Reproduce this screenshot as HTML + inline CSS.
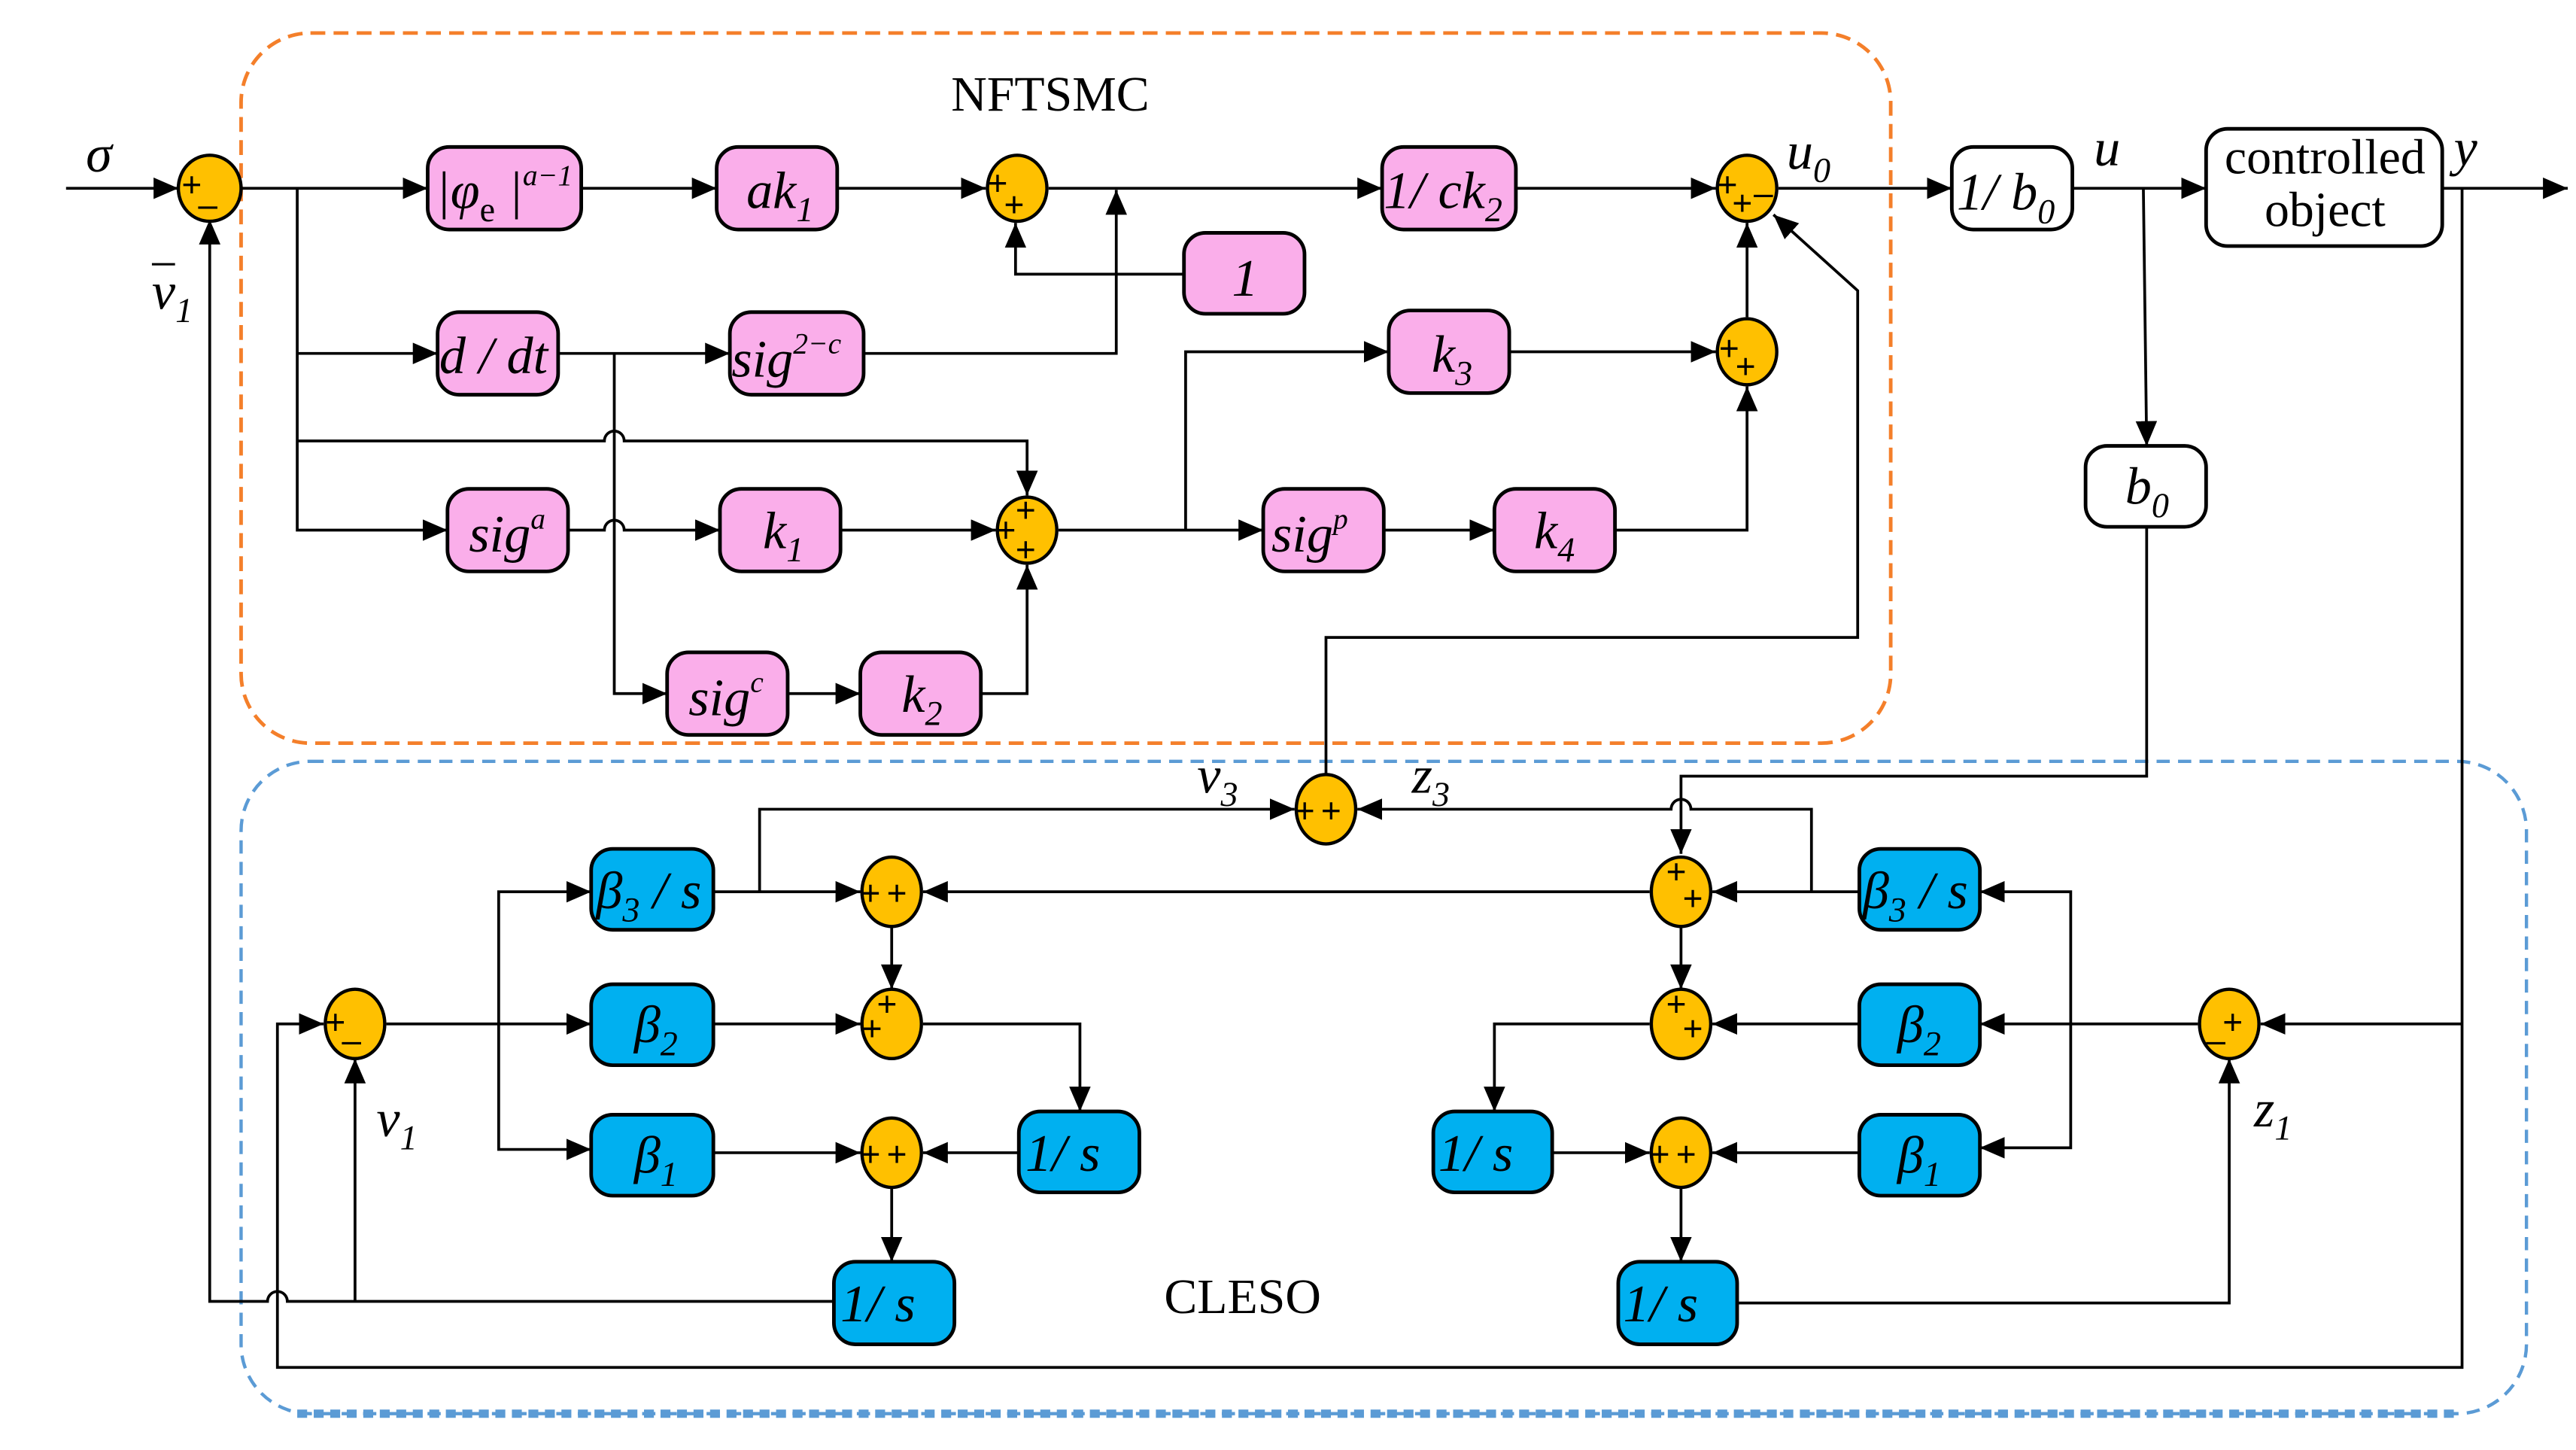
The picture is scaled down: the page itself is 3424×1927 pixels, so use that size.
<!DOCTYPE html>
<html><head><meta charset="utf-8"><style>
html,body{margin:0;padding:0;background:#fff;width:3424px;height:1927px;overflow:hidden}
svg{display:block}
.b{stroke:#000;stroke-width:2.2}
.pk{fill:#FAAEEA}
.bl{fill:#00B0F0}
.wh{fill:#fff}
.s{fill:#FFC000;stroke:#000;stroke-width:2}
.l{fill:none;stroke:#000;stroke-width:1.7}
.t{font-family:"Liberation Serif",serif;font-style:italic;font-size:32px;fill:#000}
.sg{font-family:"Liberation Sans",sans-serif;font-size:21px;fill:#000}
.up{font-family:"Liberation Serif",serif;font-size:30px;fill:#000}
</style></head><body>
<svg width="3424" height="1927" viewBox="0 0 1560 878" preserveAspectRatio="none" xmlns="http://www.w3.org/2000/svg">
<defs><marker id="a" markerUnits="userSpaceOnUse" markerWidth="16" markerHeight="14" refX="15" refY="6.5" orient="auto"><path d="M0,0 L15,6.5 L0,13 z" fill="#000"/></marker></defs>

<rect x="146" y="20" width="999" height="430" rx="42" fill="none" stroke="#F47F2A" stroke-width="2.2" stroke-dasharray="9,5"/>
<rect x="146" y="461" width="1384" height="395" rx="42" fill="none" stroke="#5B9BD5" stroke-width="2" stroke-dasharray="8,5"/>
<path d="M180,856 H1490" stroke="#5B9BD5" stroke-width="5" stroke-dasharray="6,4"/>

<text x="576" y="67" class="up">NFTSMC</text>
<text x="705" y="795" class="up">CLESO</text>

<g class="l">
<path d="M40,114 H108" marker-end="url(#a)"/>
<path d="M146,114 H259" marker-end="url(#a)"/>
<path d="M352,114 H434" marker-end="url(#a)"/>
<path d="M507,114 H597" marker-end="url(#a)"/>
<path d="M635,114 H837" marker-end="url(#a)"/>
<path d="M918,114 H1039" marker-end="url(#a)"/>
<path d="M1077,114 H1182" marker-end="url(#a)"/>
<path d="M1255,114 H1336" marker-end="url(#a)"/>
<path d="M1479,114 H1555" marker-end="url(#a)"/>
<path d="M180,114 V321 H271" marker-end="url(#a)"/>
<path d="M180,214 H265" marker-end="url(#a)"/>
<path d="M180,267 H366 a6,6 0 0 1 12,0 H622 V300" marker-end="url(#a)"/>
<path d="M338,214 H442" marker-end="url(#a)"/>
<path d="M372,214 V420 H404" marker-end="url(#a)"/>
<path d="M477,420 H521" marker-end="url(#a)"/>
<path d="M344,321 H366 a6,6 0 0 1 12,0 H436" marker-end="url(#a)"/>
<path d="M509,321 H603" marker-end="url(#a)"/>
<path d="M594,420 H622 V342" marker-end="url(#a)"/>
<path d="M523,214 H676 V115" marker-end="url(#a)"/>
<path d="M717,166 H615 V135" marker-end="url(#a)"/>
<path d="M641,321 H765" marker-end="url(#a)"/>
<path d="M718,321 V213 H841" marker-end="url(#a)"/>
<path d="M838,321 H905" marker-end="url(#a)"/>
<path d="M914,213 H1039" marker-end="url(#a)"/>
<path d="M978,321 H1058 V234" marker-end="url(#a)"/>
<path d="M1058,192 V135" marker-end="url(#a)"/>
<path d="M803,469 V386 H1125 V176 L1074,130" marker-end="url(#a)"/>
<path d="M1298,114 L1300,270" marker-end="url(#a)"/>
<path d="M1300,319 V470 H1018 V517" marker-end="url(#a)"/>
<path d="M1097,540 V490 H1024 a6,6 0 0 0 -12,0 H822" marker-end="url(#a)"/>
<path d="M1491,114 V828 H168 V620 H196" marker-end="url(#a)"/>
<path d="M1491,620 H1369" marker-end="url(#a)"/>
<path d="M505,788 H174 a6,6 0 0 0 -12,0 H127 V133" marker-end="url(#a)"/>
<path d="M215,788 V641" marker-end="url(#a)"/>
<path d="M234,620 H358" marker-end="url(#a)"/>
<path d="M302,620 V540 H358" marker-end="url(#a)"/>
<path d="M302,620 V696 H358" marker-end="url(#a)"/>
<path d="M432,540 H521" marker-end="url(#a)"/>
<path d="M460,540 V490 H784" marker-end="url(#a)"/>
<path d="M432,620 H521" marker-end="url(#a)"/>
<path d="M432,698 H521" marker-end="url(#a)"/>
<path d="M540,561 V599" marker-end="url(#a)"/>
<path d="M559,620 H654 V673" marker-end="url(#a)"/>
<path d="M617,698 H559" marker-end="url(#a)"/>
<path d="M540,719 V764" marker-end="url(#a)"/>
<path d="M1126,540 H1037" marker-end="url(#a)"/>
<path d="M999,540 H559" marker-end="url(#a)"/>
<path d="M1018,561 V599" marker-end="url(#a)"/>
<path d="M1126,620 H1037" marker-end="url(#a)"/>
<path d="M999,620 H905 V673" marker-end="url(#a)"/>
<path d="M940,698 H999" marker-end="url(#a)"/>
<path d="M1126,698 H1037" marker-end="url(#a)"/>
<path d="M1018,719 V764" marker-end="url(#a)"/>
<path d="M1331,620 H1199" marker-end="url(#a)"/>
<path d="M1254,620 V540 H1199" marker-end="url(#a)"/>
<path d="M1254,620 V695 H1199" marker-end="url(#a)"/>
<path d="M1052,789 H1350 V641" marker-end="url(#a)"/>
</g>

<g class="b pk">
<rect x="259" y="89" width="93" height="50" rx="13"/>
<rect x="434" y="89" width="73" height="50" rx="13"/>
<rect x="837" y="89" width="81" height="50" rx="13"/>
<rect x="717" y="141" width="73" height="49" rx="13"/>
<rect x="265" y="189" width="73" height="50" rx="13"/>
<rect x="442" y="189" width="81" height="50" rx="13"/>
<rect x="841" y="188" width="73" height="50" rx="13"/>
<rect x="271" y="296" width="73" height="50" rx="13"/>
<rect x="436" y="296" width="73" height="50" rx="13"/>
<rect x="765" y="296" width="73" height="50" rx="13"/>
<rect x="905" y="296" width="73" height="50" rx="13"/>
<rect x="404" y="395" width="73" height="50" rx="13"/>
<rect x="521" y="395" width="73" height="50" rx="13"/>
</g>
<g class="b wh">
<rect x="1182" y="89" width="73" height="50" rx="13"/>
<rect x="1336" y="78" width="143" height="71" rx="13"/>
<rect x="1263" y="270" width="73" height="49" rx="13"/>
</g>
<g class="b bl">
<rect x="358" y="514" width="74" height="49" rx="13"/>
<rect x="358" y="596" width="74" height="49" rx="13"/>
<rect x="358" y="675" width="74" height="49" rx="13"/>
<rect x="617" y="673" width="73" height="49" rx="13"/>
<rect x="505" y="764" width="73" height="50" rx="13"/>
<rect x="1126" y="514" width="73" height="49" rx="13"/>
<rect x="1126" y="596" width="73" height="49" rx="13"/>
<rect x="1126" y="675" width="73" height="49" rx="13"/>
<rect x="868" y="673" width="72" height="49" rx="13"/>
<rect x="980" y="764" width="72" height="50" rx="13"/>
</g>

<g class="s">
<ellipse cx="127" cy="114" rx="19" ry="20"/>
<ellipse cx="616" cy="114" rx="18" ry="20"/>
<ellipse cx="1058" cy="114" rx="18" ry="20"/>
<ellipse cx="1058" cy="213" rx="18" ry="20"/>
<ellipse cx="622" cy="321" rx="18" ry="20"/>
<ellipse cx="803" cy="490" rx="18" ry="21"/>
<ellipse cx="540" cy="540" rx="18" ry="21"/>
<ellipse cx="540" cy="620" rx="18" ry="21"/>
<ellipse cx="540" cy="698" rx="18" ry="21"/>
<ellipse cx="215" cy="620" rx="18" ry="21"/>
<ellipse cx="1018" cy="540" rx="18" ry="21"/>
<ellipse cx="1018" cy="620" rx="18" ry="21"/>
<ellipse cx="1018" cy="698" rx="18" ry="21"/>
<ellipse cx="1350" cy="620" rx="18" ry="21"/>
</g>
<g class="sg">
<text x="110" y="119">+</text><text x="120" y="131">–</text>
<text x="598" y="118">+</text><text x="608" y="131">+</text>
<text x="1040" y="119">+</text><text x="1049" y="130">+</text><text x="1062" y="124">–</text>
<text x="1041" y="218">+</text><text x="1051" y="229">+</text>
<text x="615" y="316">+</text><text x="603" y="328">+</text><text x="615" y="340">+</text>
<text x="784" y="498">+</text><text x="800" y="498">+</text>
<text x="521" y="548">+</text><text x="537" y="548">+</text>
<text x="531" y="615">+</text><text x="522" y="630">+</text>
<text x="521" y="706">+</text><text x="537" y="706">+</text>
<text x="197" y="626">+</text><text x="207" y="637">–</text>
<text x="1009" y="535">+</text><text x="1019" y="551">+</text>
<text x="1009" y="615">+</text><text x="1019" y="630">+</text>
<text x="999" y="706">+</text><text x="1015" y="706">+</text>
<text x="1346" y="626">+</text><text x="1336" y="637">–</text>
</g>

<g class="t">
<text x="264" y="126" font-size="32">|<tspan>φ</tspan><tspan font-style="normal" font-size="21" dy="8">e</tspan><tspan dy="-8"> |</tspan><tspan font-size="18" dy="-14">a−1</tspan></text>
<text x="452" y="126">ak<tspan font-size="21" dy="8">1</tspan></text>
<text x="838" y="126">1/ ck<tspan font-size="21" dy="8">2</tspan></text>
<text x="746" y="179">1</text>
<text x="266" y="226">d / dt</text>
<text x="443" y="228">sig<tspan font-size="18" dy="-14">2−c</tspan></text>
<text x="867" y="225">k<tspan font-size="21" dy="8">3</tspan></text>
<text x="284" y="334">sig<tspan font-size="18" dy="-14">a</tspan></text>
<text x="462" y="332">k<tspan font-size="21" dy="8">1</tspan></text>
<text x="770" y="334">sig<tspan font-size="18" dy="-14">p</tspan></text>
<text x="929" y="332">k<tspan font-size="21" dy="8">4</tspan></text>
<text x="417" y="433">sig<tspan font-size="18" dy="-14">c</tspan></text>
<text x="546" y="431">k<tspan font-size="21" dy="8">2</tspan></text>
<text x="1185" y="127">1/ b<tspan font-size="21" dy="8">0</tspan></text>
<text x="1287" y="305">b<tspan font-size="21" dy="8">0</tspan></text>
<text x="361" y="550">β<tspan font-size="21" dy="8">3</tspan><tspan dy="-8"> / s</tspan></text>
<text x="384" y="631">β<tspan font-size="21" dy="8">2</tspan></text>
<text x="384" y="710">β<tspan font-size="21" dy="8">1</tspan></text>
<text x="621" y="709">1/ s</text>
<text x="509" y="800">1/ s</text>
<text x="1128" y="550">β<tspan font-size="21" dy="8">3</tspan><tspan dy="-8"> / s</tspan></text>
<text x="1149" y="631">β<tspan font-size="21" dy="8">2</tspan></text>
<text x="1149" y="710">β<tspan font-size="21" dy="8">1</tspan></text>
<text x="871" y="709">1/ s</text>
<text x="983" y="800">1/ s</text>
<text x="52" y="104">σ</text>
<text x="92" y="187">v<tspan font-size="21" dy="8">1</tspan></text>
<text x="1082" y="102">u<tspan font-size="21" dy="8">0</tspan></text>
<text x="1268" y="100">u</text>
<text x="1486" y="100">y</text>
<text x="725" y="480">v<tspan font-size="21" dy="8">3</tspan></text>
<text x="855" y="480">z<tspan font-size="21" dy="8">3</tspan></text>
<text x="228" y="688">v<tspan font-size="21" dy="8">1</tspan></text>
<text x="1365" y="682">z<tspan font-size="21" dy="8">1</tspan></text>
</g>
<path d="M92,160 H106" stroke="#000" stroke-width="1.4"/>
<text x="1408" y="105" class="up" font-size="26" text-anchor="middle">controlled</text>
<text x="1408" y="137" class="up" font-size="26" text-anchor="middle">object</text>
</svg>
</body></html>
